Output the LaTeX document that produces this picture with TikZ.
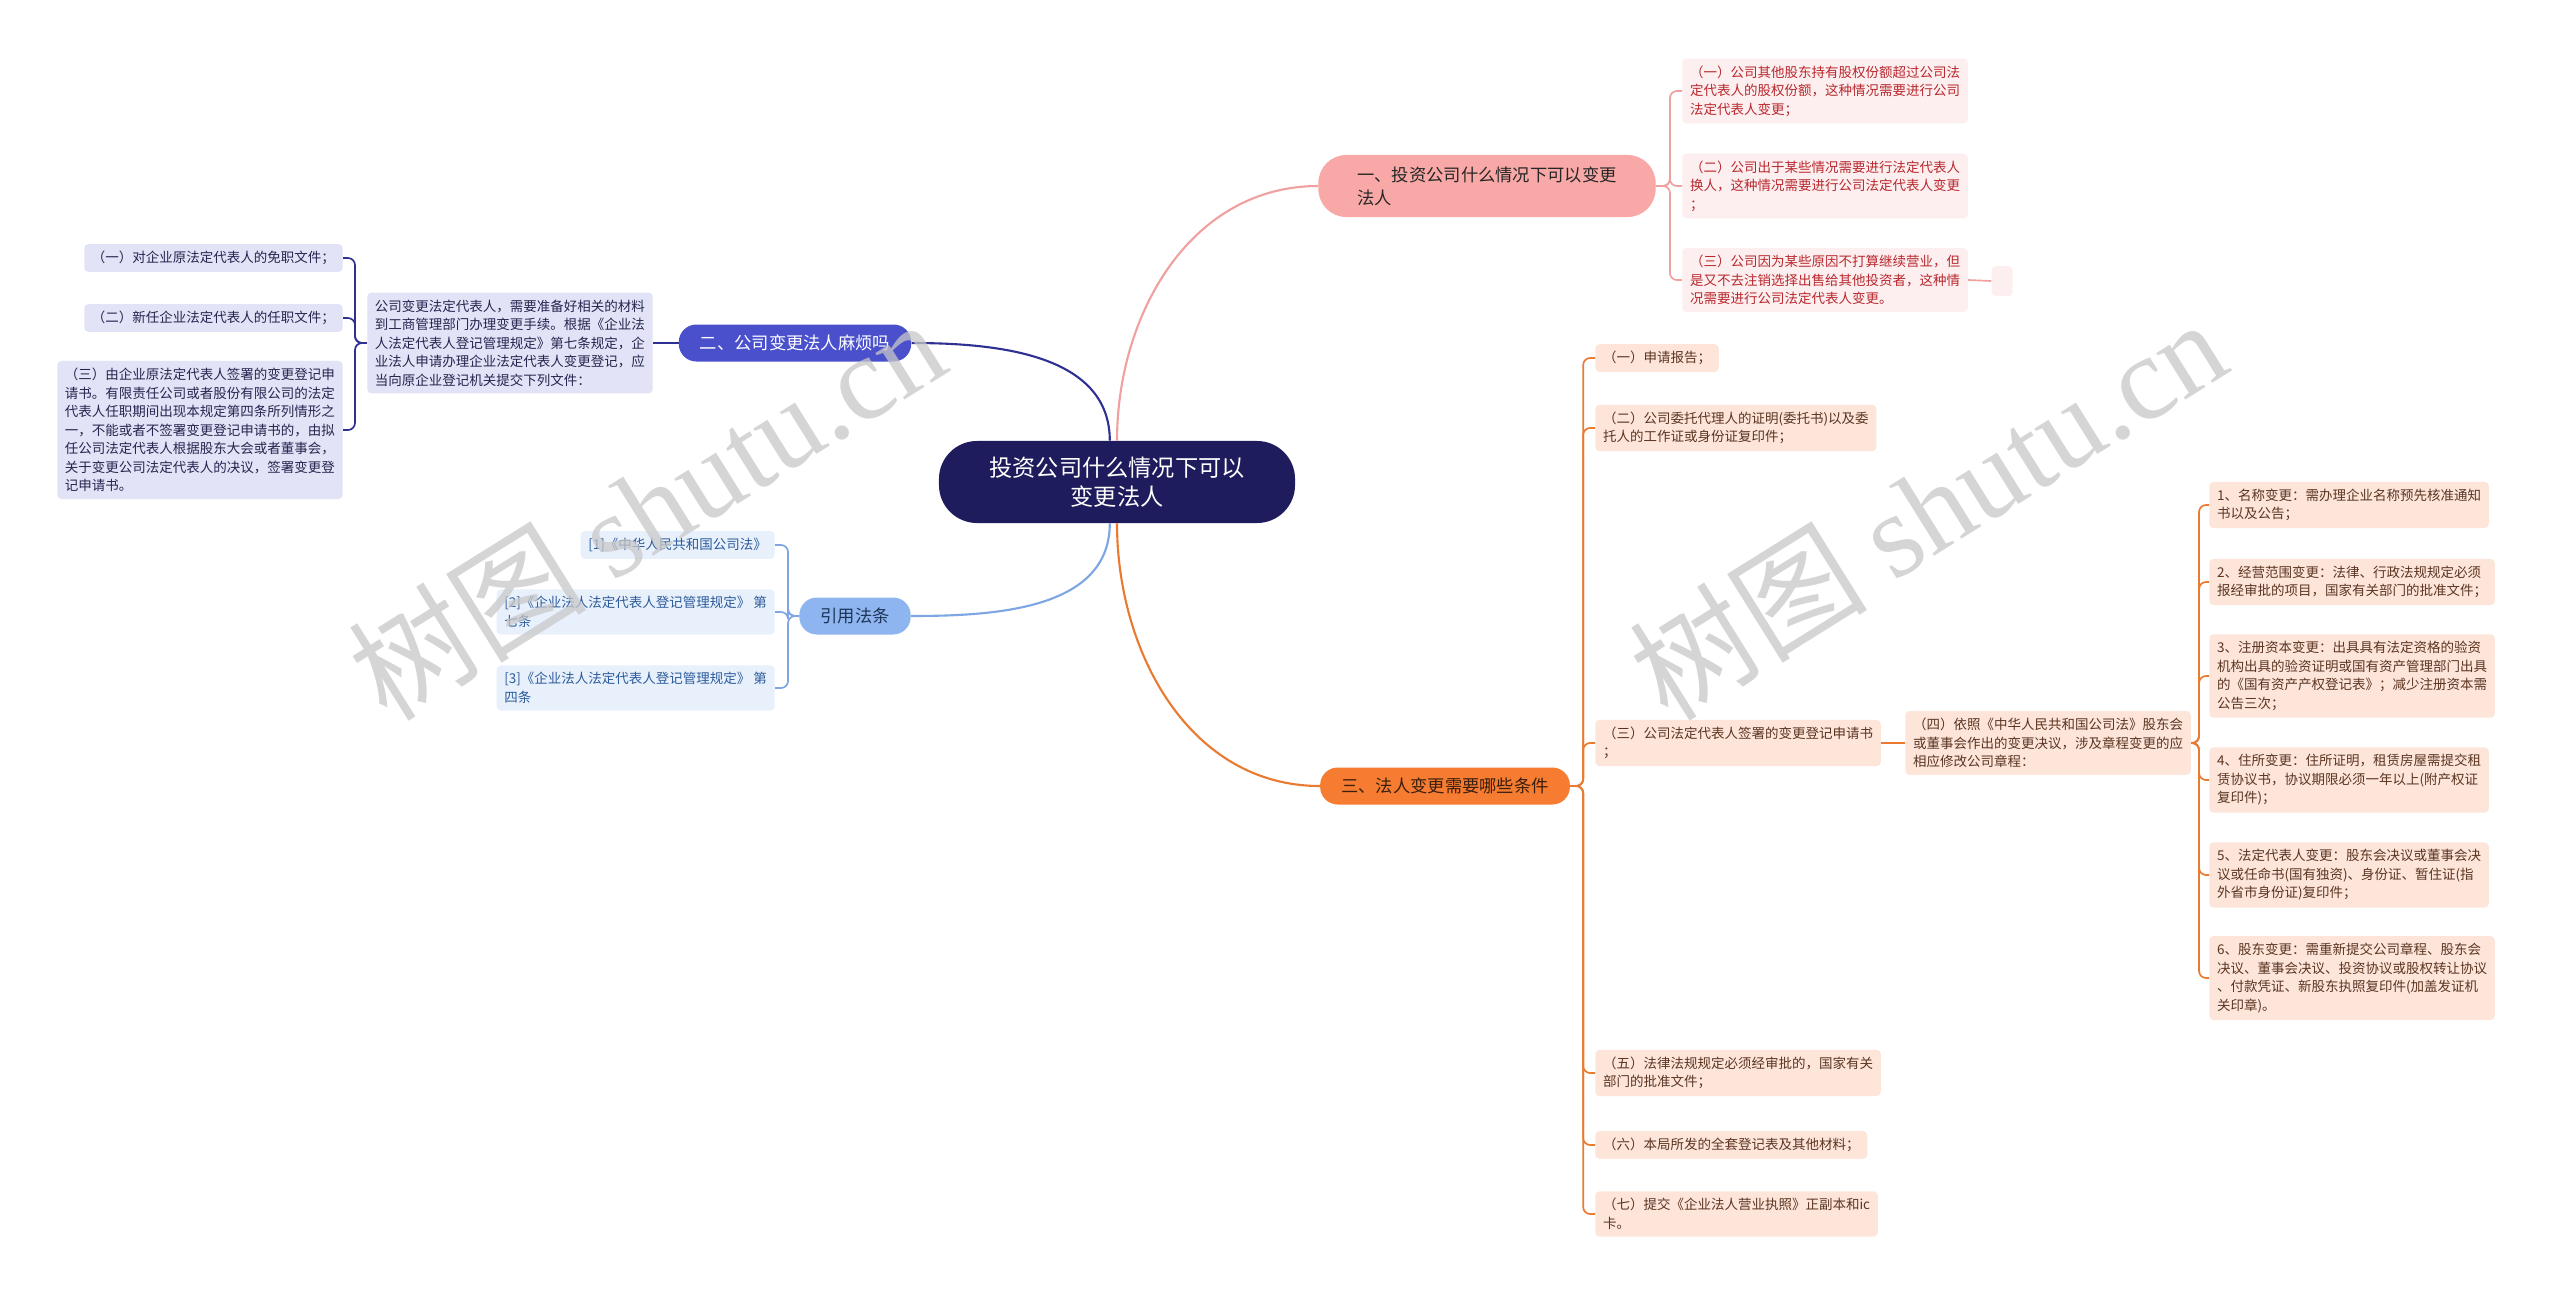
\documentclass[tikz,border=0pt]{standalone}
\usepackage{fontspec}
\setmainfont{Noto Sans CJK SC}
\newfontfamily\wmlatin{Liberation Serif}
\usepackage{tikz}

\definecolor{rootnavy}{HTML}{1E1C5C}
\definecolor{pinkfill}{HTML}{F8A8A6}
\definecolor{pinkline}{HTML}{F0A09E}
\definecolor{pinkleaf}{HTML}{FDEFEF}
\definecolor{pinktext}{HTML}{B8282E}
\definecolor{purplefill}{HTML}{4A50CC}
\definecolor{navyline}{HTML}{2E3192}
\definecolor{purpleleaf}{HTML}{E3E3F7}
\definecolor{purpletext}{HTML}{25254F}
\definecolor{bluefill}{HTML}{8EB5F0}
\definecolor{bluetext}{HTML}{1C3557}
\definecolor{blueline}{HTML}{7DA6E3}
\definecolor{blueleaf}{HTML}{E8F0FC}
\definecolor{bluelefttext}{HTML}{2D5B9B}
\definecolor{orangefill}{HTML}{F57C31}
\definecolor{orangetext}{HTML}{3A1E0E}
\definecolor{orangeline}{HTML}{E97A30}
\definecolor{orangeleaf}{HTML}{FDE5DA}
\definecolor{orangelefttext}{HTML}{5B3521}
\definecolor{wmgray}{HTML}{C8C8C8}

\newcommand\leaffont{\fontsize{9.6pt}{13.2pt}\selectfont}
\newcommand\branchfont{\fontsize{12.3pt}{16.5pt}\selectfont}
\newcommand\rootfont{\fontsize{16.5pt}{21pt}\selectfont}

\begin{document}
\begin{tikzpicture}[x=0.025cm,y=0.025cm,
  leaf/.style={rounded corners=3pt,inner xsep=5.5pt,inner ysep=5pt,align=left,font=\leaffont},
  pinkbox/.style={leaf,fill=pinkleaf,text=pinktext},
  purplebox/.style={leaf,fill=purpleleaf,text=purpletext},
  refbox/.style={leaf,fill=blueleaf,text=bluelefttext},
  orangebox/.style={leaf,fill=orangeleaf,text=orangelefttext},
  branch/.style={rounded corners=0.44cm,minimum height=0.925cm,inner xsep=15pt,font=\branchfont},
  link/.style={line width=1.5pt},
  brace/.style={line width=1.2pt,rounded corners=5pt}]
  \fill[white] (0,0) rectangle (2560,-1297);
  \useasboundingbox (0,0) rectangle (2560,-1297);

  \node[fill=rootnavy,text=white,rounded corners=0.95cm,minimum width=8.9cm,minimum height=2.05cm,align=center,font=\rootfont] (root) at (1117,-482) {投资公司什么情况下可以\\变更法人};
  \node[branch,fill=pinkfill,text=black!85,rounded corners=0.7cm,minimum width=8.43cm,minimum height=1.55cm,align=left] (chg) at (1487,-186) {一、投资公司什么情况下可以变更\\法人};
  \node[branch,fill=purplefill,text=white] (hard) at (795,-343) {二、公司变更法人麻烦吗};
  \node[branch,fill=bluefill,text=bluetext] (refs) at (855,-616) {引用法条};
  \node[branch,fill=orangefill,text=orangetext] (cond) at (1445,-786) {三、法人变更需要哪些条件};

  \node[pinkbox,anchor=west] (caseA) at (1682,-91) {（一）公司其他股东持有股权份额超过公司法\\定代表人的股权份额，这种情况需要进行公司\\法定代表人变更；};
  \node[pinkbox,anchor=west] (caseB) at (1682,-186) {（二）公司出于某些情况需要进行法定代表人\\换人，这种情况需要进行公司法定代表人变更\\；};
  \node[pinkbox,anchor=west] (caseC) at (1682,-280) {（三）公司因为某些原因不打算继续营业，但\\是又不去注销选择出售给其他投资者，这种情\\况需要进行公司法定代表人变更。};
  \node[fill=pinkleaf,rounded corners=3pt,minimum width=0.525cm,minimum height=0.75cm] (caseD) at (2002,-281) {};

  \node[purplebox,anchor=east] (docs) at (653,-343) {公司变更法定代表人，需要准备好相关的材料\\到工商管理部门办理变更手续。根据《企业法\\人法定代表人登记管理规定》第七条规定，企\\业法人申请办理企业法定代表人变更登记，应\\当向原企业登记机关提交下列文件：};
  \node[purplebox,anchor=east] (docA) at (343,-258) {（一）对企业原法定代表人的免职文件；};
  \node[purplebox,anchor=east] (docB) at (343,-318) {（二）新任企业法定代表人的任职文件；};
  \node[purplebox,anchor=east] (docC) at (343,-430) {（三）由企业原法定代表人签署的变更登记申\\请书。有限责任公司或者股份有限公司的法定\\代表人任职期间出现本规定第四条所列情形之\\一，不能或者不签署变更登记申请书的，由拟\\任公司法定代表人根据股东大会或者董事会，\\关于变更公司法定代表人的决议，签署变更登\\记申请书。};

  \node[refbox,anchor=east] (lawA) at (775,-545) {[1]《中华人民共和国公司法》};
  \node[refbox,anchor=east] (lawB) at (775,-612) {[2]《企业法人法定代表人登记管理规定》 第\\七条};
  \node[refbox,anchor=east] (lawC) at (775,-688) {[3]《企业法人法定代表人登记管理规定》 第\\四条};

  \node[orangebox,anchor=west] (reqA) at (1595,-358) {（一）申请报告；};
  \node[orangebox,anchor=west] (reqB) at (1595,-428) {（二）公司委托代理人的证明(委托书)以及委\\托人的工作证或身份证复印件；};
  \node[orangebox,anchor=west] (reqC) at (1595,-743) {（三）公司法定代表人签署的变更登记申请书\\；};
  \node[orangebox,anchor=west] (reqD) at (1905,-743) {（四）依照《中华人民共和国公司法》股东会\\或董事会作出的变更决议，涉及章程变更的应\\相应修改公司章程：};
  \node[orangebox,anchor=west] (reqE) at (1595,-1073) {（五）法律法规规定必须经审批的，国家有关\\部门的批准文件；};
  \node[orangebox,anchor=west] (reqF) at (1595,-1145) {（六）本局所发的全套登记表及其他材料；};
  \node[orangebox,anchor=west] (reqG) at (1595,-1214) {（七）提交《企业法人营业执照》正副本和ic\\卡。};

  \node[orangebox,anchor=west] (itemA) at (2209,-505) {1、名称变更：需办理企业名称预先核准通知\\书以及公告；};
  \node[orangebox,anchor=west] (itemB) at (2209,-582) {2、经营范围变更：法律、行政法规规定必须\\报经审批的项目，国家有关部门的批准文件；};
  \node[orangebox,anchor=west] (itemC) at (2209,-676) {3、注册资本变更：出具具有法定资格的验资\\机构出具的验资证明或国有资产管理部门出具\\的《国有资产产权登记表》；减少注册资本需\\公告三次；};
  \node[orangebox,anchor=west] (itemD) at (2209,-780) {4、住所变更：住所证明，租赁房屋需提交租\\赁协议书，协议期限必须一年以上(附产权证\\复印件)；};
  \node[orangebox,anchor=west] (itemE) at (2209,-875) {5、法定代表人变更：股东会决议或董事会决\\议或任命书(国有独资)、身份证、暂住证(指\\外省市身份证)复印件；};
  \node[orangebox,anchor=west] (itemF) at (2209,-978) {6、股东变更：需重新提交公司章程、股东会\\决议、董事会决议、投资协议或股权转让协议\\、付款凭证、新股东执照复印件(加盖发证机\\关印章)。};

  \draw[link,pinkline] (root.north) to[out=90,in=180] (chg.west);
  \draw[link,navyline] ([xshift=-0.18cm]root.north) to[out=90,in=0] (hard.east);
  \draw[link,blueline] ([xshift=-0.18cm]root.south) to[out=-90,in=0] (refs.east);
  \draw[link,orangeline] (root.south) to[out=-90,in=180] (cond.west);

  \draw[brace,pinkline] (chg.east) -- ++(14,0) |- (caseA.west);
  \draw[brace,pinkline] (chg.east) -- ++(14,0) |- (caseB.west);
  \draw[brace,pinkline] (chg.east) -- ++(14,0) |- (caseC.west);
  \draw[brace,pinkline] (caseC.east) -- (caseD.west);

  \draw[brace,navyline] (hard.west) -- (docs.east);
  \draw[brace,navyline] (docs.west) -- ++(-12,0) |- (docA.east);
  \draw[brace,navyline] (docs.west) -- ++(-12,0) |- (docB.east);
  \draw[brace,navyline] (docs.west) -- ++(-12,0) |- (docC.east);

  \draw[brace,blueline] (refs.west) -- ++(-11,0) |- (lawA.east);
  \draw[brace,blueline] (refs.west) -- ++(-11,0) |- (lawB.east);
  \draw[brace,blueline] (refs.west) -- ++(-11,0) |- (lawC.east);

  \draw[brace,orangeline] (cond.east) -- ++(13,0) |- (reqA.west);
  \draw[brace,orangeline] (cond.east) -- ++(13,0) |- (reqB.west);
  \draw[brace,orangeline] (cond.east) -- ++(13,0) |- (reqC.west);
  \draw[brace,orangeline] (cond.east) -- ++(13,0) |- (reqE.west);
  \draw[brace,orangeline] (cond.east) -- ++(13,0) |- (reqF.west);
  \draw[brace,orangeline] (cond.east) -- ++(13,0) |- (reqG.west);
  \draw[brace,orangeline] (reqC.east) -- (reqD.west);
  \draw[brace,orangeline] (reqD.east) -- ++(8,0) |- (itemA.west);
  \draw[brace,orangeline] (reqD.east) -- ++(8,0) |- (itemB.west);
  \draw[brace,orangeline] (reqD.east) -- ++(8,0) |- (itemC.west);
  \draw[brace,orangeline] (reqD.east) -- ++(8,0) |- (itemD.west);
  \draw[brace,orangeline] (reqD.east) -- ++(8,0) |- (itemE.west);
  \draw[brace,orangeline] (reqD.east) -- ++(8,0) |- (itemF.west);

  \node[rotate=32,text=wmgray,text opacity=0.75,font=\fontsize{85pt}{85pt}\selectfont] (markA) at (646,-508) {树图 {\wmlatin shutu.cn}};
  \node[rotate=32,text=wmgray,text opacity=0.75,font=\fontsize{85pt}{85pt}\selectfont] (markB) at (1927,-508) {树图 {\wmlatin shutu.cn}};
\end{tikzpicture}
\end{document}
